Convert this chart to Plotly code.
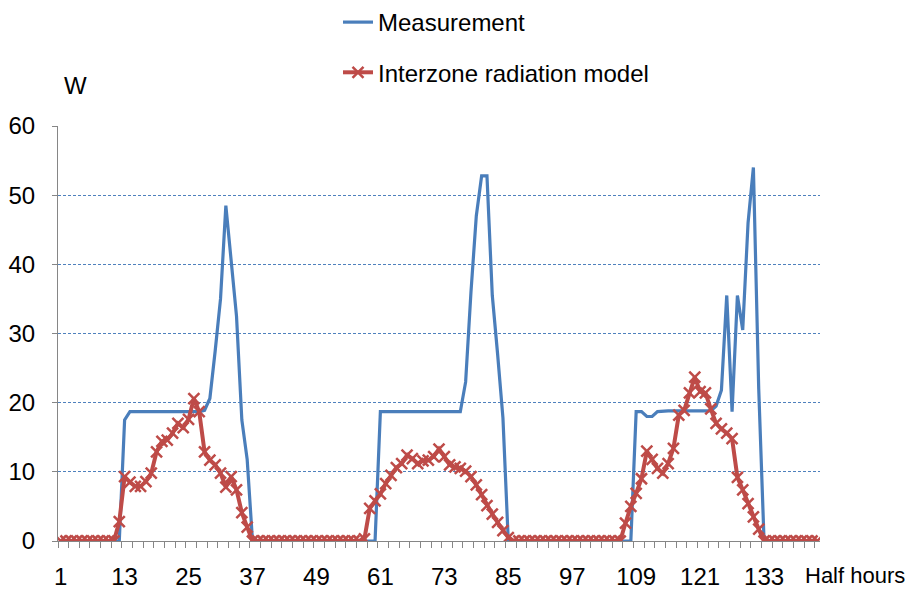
import plotly.graph_objects as go

# Half-hour index (categories 1..143)
half_hours = list(range(1, 144))

measurement = [
    0, 0, 0, 0, 0, 0, 0, 0, 0, 0, 0, 0,
    17.5, 18.7, 18.7, 18.7, 18.7, 18.7, 18.7, 18.7, 18.7, 18.7, 18.7, 18.7, 18.7, 18.7, 18.7, 18.9,
    20.6, 27.5, 35.0, 48.5, 40.2, 32.5, 17.5, 11.8, 0,
    0, 0, 0, 0, 0, 0, 0, 0, 0, 0, 0, 0, 0, 0, 0, 0, 0, 0, 0, 0, 0, 0, 0,
    18.7, 18.7, 18.7, 18.7, 18.7, 18.7, 18.7, 18.7, 18.7, 18.7, 18.7, 18.7, 18.7, 18.7, 18.7, 18.7,
    23.0, 36.0, 47.0, 52.8, 52.8, 35.5, 27.0, 17.8, 0,
    0, 0, 0, 0, 0, 0, 0, 0, 0, 0, 0, 0, 0, 0, 0, 0, 0, 0, 0, 0, 0, 0, 0,
    18.7, 18.7, 18.0, 18.0, 18.7,
    18.8, 18.8, 18.8, 18.8, 18.8, 18.8, 18.8, 18.8, 18.8, 18.8,
    19.5, 21.8, 35.5, 18.7, 35.5, 30.5, 46.0, 54.0, 22.0, 0,
    0, 0, 0, 0, 0, 0, 0, 0, 0, 0,
]

model = [
    0, 0, 0, 0, 0, 0, 0, 0, 0, 0, 0,
    2.8, 9.3, 8.5, 7.9, 7.9, 8.6, 9.8, 12.9, 14.4, 14.6, 15.6, 17.0, 16.4, 17.6, 20.6,
    18.7, 12.9, 11.7, 11.0, 9.8, 7.8, 9.3, 7.4, 4.1, 2.0, 0,
    0, 0, 0, 0, 0, 0, 0, 0, 0, 0, 0, 0, 0, 0, 0, 0, 0, 0, 0, 0,
    0.3, 4.7, 5.8, 6.8, 8.3, 9.5, 10.6, 11.2, 12.4, 11.9, 11.2, 11.6, 11.7, 12.2, 13.3,
    12.2, 11.0, 10.7, 10.5, 10.1, 9.3, 8.1, 6.7, 5.1, 3.9, 2.7, 1.5, 0.5, 0,
    0, 0, 0, 0, 0, 0, 0, 0, 0, 0, 0, 0, 0, 0, 0, 0, 0, 0, 0, 0,
    2.6, 5.0, 6.9, 9.0, 13.0, 11.8, 10.5, 9.8, 11.2, 13.4, 18.2, 18.9, 21.4, 23.7,
    21.6, 21.4, 19.1, 17.0, 16.2, 15.6, 14.8, 9.2, 7.4, 5.4, 3.5, 1.7, 0,
    0, 0, 0, 0, 0, 0, 0, 0, 0, 0,
]

x_tick_labels = ["1", "13", "25", "37", "49", "61", "73", "85", "97", "109", "121", "133"]
y_tick_values = [0, 10, 20, 30, 40, 50, 60]

FONT = "Liberation Sans Narrow, Liberation Sans, sans-serif"
BLUE = "#4a7ebb"
RED = "#be4b48"
W, H = 913, 589
OFF = 8  # page body margin

L, T, R, B = 58 - OFF, 126 - OFF, W - (820 - OFF), H - (541 - OFF)
PW, PH = W - L - R, H - T - B

fig = go.Figure()
fig.add_trace(go.Scatter(
    x=half_hours, y=measurement, mode="lines", name="Measurement",
    line=dict(color=BLUE, width=3.2), legendgroup="a",
))
fig.add_trace(go.Scatter(
    x=half_hours, y=model, mode="lines+markers", name="Interzone radiation model",
    line=dict(color=RED, width=4),
    marker=dict(symbol="x-thin", size=11, line=dict(color=RED, width=2.5), color=RED),
    legendgroup="b",
))

n = len(half_hours)
fig.update_layout(
    width=W, height=H,
    margin=dict(l=L, r=R, t=T, b=B, autoexpand=False),
    paper_bgcolor="white", plot_bgcolor="white",
    font=dict(family=FONT, size=24, color="#000000"),
    showlegend=True,
    legend=dict(
        xref="paper", yref="paper",
        x=(338 - 58) / PW, y=1 + (126 - 0) / PH, xanchor="left", yanchor="top",
        font=dict(family=FONT, size=24, color="#000000"),
        tracegroupgap=16, traceorder="grouped",
        bgcolor="rgba(0,0,0,0)",
    ),
    xaxis=dict(
        range=[0.5, n + 0.5], automargin=False,
        tickmode="array",
        tickvals=[int(t) for t in x_tick_labels],
        ticktext=x_tick_labels,
        ticks="", showgrid=False, zeroline=False,
        showline=True, linecolor="#868686", linewidth=1,
        ticklabelstandoff=14,
        tickfont=dict(family=FONT, size=24),
        minor=dict(ticks="outside", tickmode="array",
                   tickvals=[b + 0.5 for b in range(0, n + 1, 2)],
                   ticklen=6, tickcolor="#868686", tickwidth=1, showgrid=False),
    ),
    yaxis=dict(
        range=[0, 60], automargin=False,
        tickmode="array", tickvals=y_tick_values,
        ticks="outside", ticklen=5, tickcolor="#868686",
        showgrid=True, gridcolor="#4f81bd", gridwidth=1, griddash="3px,2px",
        zeroline=False,
        showline=True, linecolor="#868686", linewidth=1,
        ticklabelstandoff=12,
        tickfont=dict(family=FONT, size=24),
    ),
    annotations=[
        dict(text="W", xref="paper", yref="paper", x=(75 - 58) / PW, y=1 + (126 - 85) / PH,
             xanchor="center", yanchor="middle",
             showarrow=False, font=dict(family=FONT, size=24)),
        dict(text="Half hours", xref="paper", yref="paper", x=(803 - 58) / PW, y=-(575 - 541) / PH,
             xanchor="left", yanchor="middle", showarrow=False, font=dict(family=FONT, size=22)),
    ],
)

fig.write_html("out.html")
